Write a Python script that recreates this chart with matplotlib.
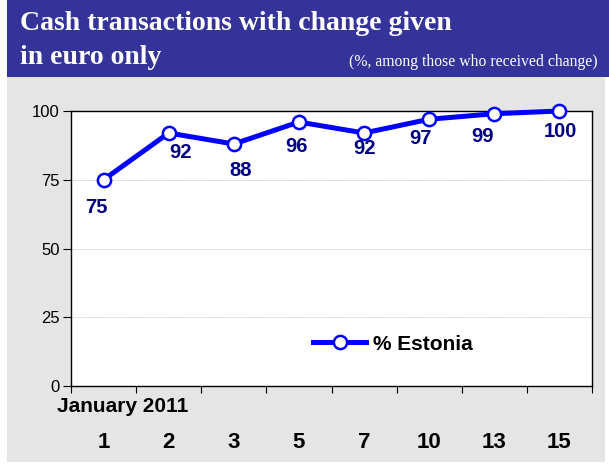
import matplotlib.pyplot as plt
from matplotlib.patches import Rectangle
from matplotlib.transforms import blended_transform_factory

days = ['1', '2', '3', '5', '7', '10', '13', '15']
share = [75, 92, 88, 96, 92, 97, 99, 100]
# label baseline offsets in pixels (dx, dy) relative to each point
label_offsets = [(-7, -33), (12, -25), (7, -32), (-2, -30), (0, -21), (-9, -25), (-12, -28), (1, -26)]

W, H = 609, 465
fig = plt.figure(figsize=(W / 100, H / 100), dpi=100)
fig.patch.set_facecolor('white')

# header band and grey panel
fig.patches.append(Rectangle((7 / W, 1 - 77 / H), 1 - 7 / W, 77 / H, transform=fig.transFigure,
                             facecolor='#333399', edgecolor='none', zorder=-1))
fig.patches.append(Rectangle((7 / W, 1 - 462 / H), 598 / W, (462 - 77) / H, transform=fig.transFigure,
                             facecolor='#e5e5e5', edgecolor='none', zorder=-1))

serif = ['Liberation Serif', 'DejaVu Serif']
fig.text(20 / W, 1 - 30 / H, 'Cash transactions with change given', color='white', fontsize=20,
         fontweight='bold', family=serif, va='baseline', ha='left')
fig.text(20 / W, 1 - 64 / H, 'in euro only', color='white', fontsize=20,
         fontweight='bold', family=serif, va='baseline', ha='left')
fig.text(598 / W, 1 - 66 / H, '(%, among those who received change)', color='white', fontsize=11.3,
         family=serif, va='baseline', ha='right')

ax = fig.add_axes([71 / W, 1 - 386 / H, 521 / W, 275 / H])
ax.set_zorder(2)
ax.set_facecolor('white')
x = list(range(len(days)))
ax.plot(x, share, color='#0000ff', lw=3.6, marker='o', markersize=9.5, markerfacecolor='white',
        markeredgecolor='#0000ff', markeredgewidth=1.8, label='% Estonia', zorder=3, clip_on=False)

for xi, v, (dx, dy) in zip(x, share, label_offsets):
    ax.annotate(str(v), (xi, v), xytext=(dx * 0.72, dy * 0.72), textcoords='offset points',
                ha='center', va='baseline', fontsize=14.5, fontweight='bold', color='#000080',
                family='Liberation Sans')

ax.set_xlim(-0.5, len(days) - 0.5)
ax.set_ylim(0, 100)
ax.set_yticks([0, 25, 50, 75, 100])
ax.tick_params(axis='y', labelsize=12, length=6, width=0.8, pad=2)
for lab in ax.get_yticklabels():
    lab.set_family('Liberation Sans')
ax.set_xticks([i - 0.5 for i in range(len(days) + 1)])
ax.set_xticklabels([])
ax.tick_params(axis='x', length=5, width=0.8)
ax.grid(axis='y', color='#c0c0c0', lw=0.6, ls=(0, (1, 1)))
for s in ax.spines.values():
    s.set_color('black')
    s.set_linewidth(1)

trans = blended_transform_factory(ax.transData, ax.transAxes)
for xi, d in zip(x, days):
    ax.text(xi, -(448 - 386) / 275, d, transform=trans, ha='center', va='baseline',
            fontsize=16, fontweight='bold', family='Liberation Sans')
fig.text(57 / W, 1 - 412 / H, 'January 2011', ha='left', va='baseline', fontsize=15,
         fontweight='bold', family='Liberation Sans')

leg = ax.legend(loc='center left', bbox_to_anchor=((313 - 71) / 521, (386 - 344) / 275), frameon=False,
                prop={'family': 'Liberation Sans', 'weight': 'bold', 'size': 15},
                handlelength=2.55, handletextpad=0.34, borderpad=0, borderaxespad=0)

fig.savefig('out.png', dpi=100)
